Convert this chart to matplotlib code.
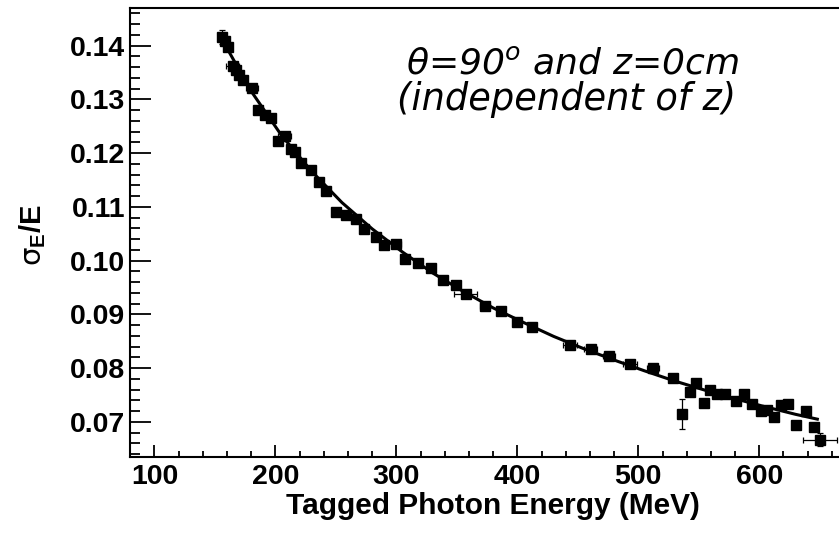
import matplotlib
matplotlib.use("Agg")
import matplotlib.pyplot as plt
from matplotlib.ticker import MultipleLocator, FormatStrFormatter

plt.rcParams["font.family"] = ["Liberation Sans", "DejaVu Sans"]
plt.rcParams["font.weight"] = "bold"
plt.rcParams["mathtext.fontset"] = "custom"
plt.rcParams["mathtext.rm"] = "DejaVu Sans:normal"
plt.rcParams["mathtext.it"] = "DejaVu Sans:italic:normal"
plt.rcParams["mathtext.bf"] = "Liberation Sans:bold"

# measured points: tagged photon energy (MeV), sigma_E/E and errors
energy = [155.5, 158.5, 161, 164.5, 167, 170, 173.5, 180.5, 185.5, 191,
          196.5, 202, 207.5, 213, 216, 221.5, 229.5, 236, 242, 250,
          258, 266.5, 273.5, 283, 290, 299.5, 307.5, 318, 328.5, 338.5,
          349.5, 357.5, 373, 386.5, 399.5, 412.5, 443.5, 460.5, 476, 493,
          512, 528.5, 536.5, 542.5, 548, 554, 559, 565, 572, 581,
          587.5, 594, 601.5, 606.5, 612.5, 618, 623.5, 630.5, 638.5, 645.5,
          650.5]
resolution = [0.1416, 0.1408, 0.1398, 0.1362, 0.1355, 0.1346, 0.1336, 0.1322, 0.1281, 0.1271,
              0.1266, 0.1223, 0.1232, 0.1208, 0.1202, 0.1182, 0.1169, 0.1147, 0.1130, 0.1091,
              0.1084, 0.1078, 0.1059, 0.1044, 0.1029, 0.1031, 0.1003, 0.0995, 0.0986, 0.0964,
              0.0955, 0.0938, 0.0916, 0.0907, 0.0885, 0.0876, 0.0843, 0.0836, 0.0822, 0.0807,
              0.0800, 0.0782, 0.0714, 0.0756, 0.0773, 0.0735, 0.0760, 0.0752, 0.0752, 0.0739,
              0.0752, 0.0734, 0.0720, 0.0722, 0.0709, 0.0732, 0.0734, 0.0694, 0.0721, 0.0691,
              0.0667]
energy_err = [2, 2, 2, 5, 2, 2, 3, 5, 2, 2,
              2, 2, 5, 2, 2, 2, 2, 2, 2, 2,
              2, 2, 4, 2, 2, 4, 2, 2, 3, 2,
              2, 9.5, 4, 2, 2, 2, 6, 5, 5, 6,
              5, 2, 1, 2, 2, 2, 2, 2, 2, 2,
              2, 2, 2, 2, 2, 2, 2, 2, 2, 2,
              14]
resolution_err = [0.0013, 0.0005, 0.0005, 0.0005, 0.0005, 0.0005, 0.0005, 0.0005, 0.0005, 0.0005,
                  0.0005, 0.0005, 0.0005, 0.0005, 0.0005, 0.0005, 0.0005, 0.0005, 0.0005, 0.0007,
                  0.0005, 0.0005, 0.0005, 0.0005, 0.0005, 0.0005, 0.0005, 0.0005, 0.0005, 0.0005,
                  0.0005, 0.0005, 0.0005, 0.0005, 0.0005, 0.0005, 0.0005, 0.0005, 0.0005, 0.0005,
                  0.0005, 0.0005, 0.0028, 0.0005, 0.0005, 0.0006, 0.0005, 0.0005, 0.0005, 0.0005,
                  0.0005, 0.0006, 0.0005, 0.0005, 0.0005, 0.0005, 0.0005, 0.0005, 0.0005, 0.0005,
                  0.0012]

# fitted curve
fit_energy = [155, 180, 205, 230, 255, 280, 305, 330, 355, 380, 405,
              430, 455, 480, 505, 530, 555, 580, 605, 630, 648]
fit_resolution = [0.1415, 0.1315, 0.1233, 0.1166, 0.1108, 0.1059, 0.1016, 0.0977, 0.0943, 0.0912, 0.0885,
                  0.0859, 0.0836, 0.0815, 0.0795, 0.0776, 0.0759, 0.0743, 0.0728, 0.0714, 0.0705]

fig = plt.figure(figsize=(8.39, 5.34), dpi=100)
ax = fig.add_axes([0.1553, 0.1436, 0.865, 0.8414])

ax.plot(fit_energy, fit_resolution, color="black", lw=2.2, zorder=2)
ax.errorbar(energy, resolution, xerr=energy_err, yerr=resolution_err,
            fmt="s", color="black", ms=6.5, elinewidth=0.9, capsize=2.5,
            capthick=0.9, zorder=3)

ax.set_xlim(80, 680)
ax.set_ylim(0.0634, 0.1470)

ax.xaxis.set_major_locator(MultipleLocator(100))
ax.xaxis.set_minor_locator(MultipleLocator(20))
ax.yaxis.set_major_locator(MultipleLocator(0.01))
ax.yaxis.set_minor_locator(MultipleLocator(0.002))
ax.yaxis.set_major_formatter(FormatStrFormatter("%.2f"))

ax.tick_params(axis="both", which="both", direction="in", width=1.3,
               labelsize=20.5, top=False, right=False)
ax.tick_params(axis="x", which="major", length=8.6, pad=4.5)
ax.tick_params(axis="x", which="minor", length=4.3)
ax.tick_params(axis="y", which="major", length=15, pad=3.6)
ax.tick_params(axis="y", which="minor", length=7.2)
for s in ax.spines.values():
    s.set_linewidth(1.5)

ax.set_xlabel("Tagged Photon Energy (MeV)", fontsize=21.5, fontweight="bold")
ax.xaxis.label.set_va("center")
ax.xaxis.set_label_coords(0.5, -0.108)
ax.set_ylabel(r"$\mathrm{\sigma}_{\mathbf{E}}$/E", fontsize=21, fontweight="bold")
ax.yaxis.label.set_va("center")
ax.yaxis.set_label_coords(-0.135, 0.495)

fig.text(572 / 839, 1 - 74 / 534, r"θ=90$^{o}$ and z=0cm",
         ha="center", va="baseline", fontsize=26, family="DejaVu Sans",
         style="italic", weight="normal")
fig.text(567 / 839, 1 - 110 / 534, "(independent of z)",
         ha="center", va="baseline", fontsize=26.5, family="DejaVu Sans",
         style="italic", weight="normal")

fig.savefig("out.png", dpi=100)
